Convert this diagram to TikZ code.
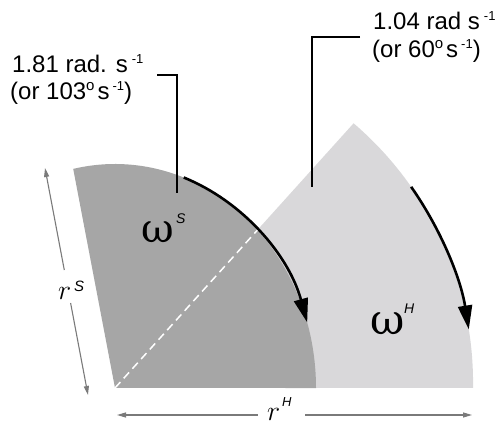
\RequirePackage{fix-cm}
\documentclass[tikz,border=0pt]{standalone}
\usepackage{fontspec}
\setmainfont{Liberation Sans}
\newfontfamily\omfont{DejaVu Serif}
\usetikzlibrary{arrows.meta}
\definecolor{darkfill}{HTML}{A6A6A6}
\definecolor{lightfill}{HTML}{D9D8DA}
\definecolor{dimgray}{HTML}{7A7A7A}
\newcommand\supx[1]{\raisebox{9pt}{\fontsize{13}{13}\selectfont #1}}
\newcommand\degx{\raisebox{9.5pt}{\fontsize{15}{15}\selectfont o}}
\begin{document}
\begin{tikzpicture}[x=1pt,y=1pt,
  bigarrow/.style={line width=2.6pt,-{Triangle[length=24pt,width=14pt]}},
  callout/.style={line width=1.1pt,black},
  dim/.style={line width=1.1pt,dimgray},
  lbl/.style={inner sep=0pt,anchor=base west,font=\fontsize{24}{27}\selectfont}]
\useasboundingbox (0,0) rectangle (503,427);
% key points
\coordinate (P) at (115,39);
\coordinate (Dtop) at (73.21,258.1);
\coordinate (Lpeak) at (353.6,303.7);
\coordinate (Lend) at (473,39);
\coordinate (Dmeet) at (257.5,197);
% light sector
\fill[lightfill] (P) -- (Lpeak) arc[start angle=49.4, end angle=0, radius=342pt] -- (Lend) -- cycle;
% dark sector
\fill[darkfill] (P) -- (Dtop) arc[start angle=102, end angle=0, x radius=201pt, y radius=224pt] -- cycle;
% dashed white line
\draw[white, line width=1.5pt, dash pattern=on 8pt off 5pt] (P) -- (Dmeet);
% rotation arrows
\coordinate (aS) at (183.75,249.5);
\draw[bigarrow] (aS) arc[start angle=70, end angle=17, x radius=201pt, y radius=224pt];
\coordinate (aH) at (411.15,240.16);
\draw[bigarrow] (aH) arc[start angle=35, end angle=9, radius=342pt];
% labels omega
\node[inner sep=0pt,anchor=base west] (omS) at (141,184) {\omfont\fontsize{40}{40}\selectfont ω};
\node[inner sep=0pt,anchor=base west] (omSs) at (176,203) {\fontsize{14}{14}\selectfont\itshape S};
\node[inner sep=0pt,anchor=base west] (omH) at (370,92) {\omfont\fontsize{42}{42}\selectfont ω};
\node[inner sep=0pt,anchor=base west] (omHs) at (404,113) {\fontsize{14}{14}\selectfont\itshape H};
% callout texts
\node[lbl] (t1a) at (12,354) {1.81 rad. s\hspace{4pt}\supx{-1}};
\node[lbl] (t1b) at (10,327) {(or 103\degx\hspace{3pt}s\hspace{3pt}\supx{-1})};
\node[lbl] (t2a) at (373,397) {1.04 rad s\hspace{4pt}\supx{-1}};
\node[lbl] (t2b) at (372,369) {(or 60\degx\hspace{3pt}s\hspace{3pt}\supx{-1})};
% callout lines
\coordinate (c1a) at (157,352);
\coordinate (c1b) at (177,352);
\coordinate (c1c) at (177,234);
\draw[callout] (c1a) -- (c1b) -- (c1c);
\coordinate (c2a) at (360,390);
\coordinate (c2b) at (312,390);
\coordinate (c2c) at (312,240);
\draw[callout] (c2a) -- (c2b) -- (c2c);
% dimension r^S
\coordinate (rs1) at (45,259);
\coordinate (rs2) at (64.3,157);
\coordinate (rs3) at (70.6,124);
\coordinate (rs4) at (88,32);
\draw[dim,{Triangle[length=9pt,width=5pt]}-] (rs1) -- (rs2);
\draw[dim,-{Triangle[length=9pt,width=5pt]}] (rs3) -- (rs4);
\node[inner sep=0pt,anchor=base west] (rS) at (58,127) {\fontsize{28}{28}\selectfont$r$};
\node[inner sep=0pt,anchor=base west] (rSs) at (74,135) {\fontsize{15}{15}\selectfont\itshape S};
% dimension r^H
\coordinate (rh1) at (117,12);
\coordinate (rh2) at (258,12);
\coordinate (rh3) at (305,12);
\coordinate (rh4) at (472,12);
\draw[dim,{Triangle[length=9pt,width=5pt]}-] (rh1) -- (rh2);
\draw[dim,-{Triangle[length=9pt,width=5pt]}] (rh3) -- (rh4);
\node[inner sep=0pt,anchor=base west] (rH) at (267,6.5) {\fontsize{28}{28}\selectfont$r$};
\node[inner sep=0pt,anchor=base west] (rHs) at (282,20) {\fontsize{13}{13}\selectfont\itshape H};
\end{tikzpicture}
\end{document}
